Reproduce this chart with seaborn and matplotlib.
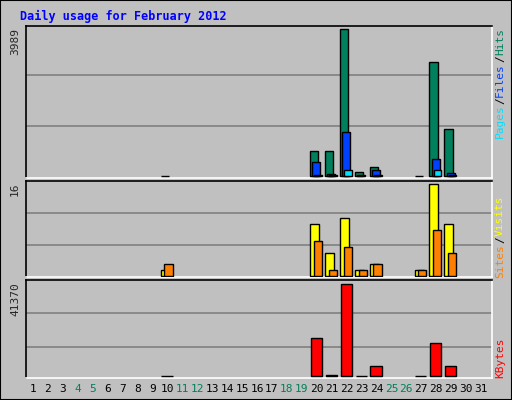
import matplotlib
matplotlib.use("Agg")
import matplotlib.pyplot as plt
import seaborn as sns
import numpy as np

sns.set_style("white")
plt.rcParams['font.family'] = ['DejaVu Sans Mono']

days = list(range(1, 32))
weekend_days = [4, 5, 11, 12, 18, 19, 25, 26]
hits = {10: 10, 20: 680, 21: 680, 22: 3989, 23: 110, 24: 240, 27: 10, 28: 3090, 29: 1280}
files = {20: 380, 21: 60, 22: 1190, 23: 20, 24: 150, 28: 460, 29: 90}
pages = {20: 30, 21: 30, 22: 160, 24: 20, 28: 160, 29: 30}
visits = {10: 1, 20: 9, 21: 4, 22: 10, 23: 1, 24: 2, 27: 1, 28: 16, 29: 9}
sites = {10: 2, 20: 6, 21: 1, 22: 5, 23: 1, 24: 2, 27: 1, 28: 8, 29: 4}
kbytes = {10: 100, 20: 17100, 21: 700, 22: 41370, 23: 150, 24: 4500, 27: 150, 28: 14800, 29: 4500}
max_hits, max_visits, max_kb = 3989, 16, 41370

BG = '#C0C0C0'
fig = plt.figure(figsize=(5.12, 4.0), dpi=100, facecolor=BG)
fig.patches.append(plt.Rectangle((0, 0), 1, 1, transform=fig.transFigure, fill=False,
                                 edgecolor='#000000', lw=1.5))
fig.text(20/512, 1-16/400, 'Daily usage for February 2012', color='#0000FF',
         fontsize=8.5, fontweight='bold', va='center', ha='left')

L, W = 26/512, 466/512
u = 30/448
XL, XR = 1 - 7*u, 31 + 11*u
def mk(top, bot):
    ax = fig.add_axes([L, 1-bot/400, W, (bot-top)/400])
    ax.set_facecolor(BG)
    ax.set_xlim(XL, XR)
    ax.set_xticks([]); ax.set_yticks([])
    for s in ['top', 'left']:
        ax.spines[s].set_color('black')
    for s in ['bottom', 'right']:
        ax.spines[s].set_color('white')
    for s in ax.spines.values():
        s.set_linewidth(1.2)
    return ax

def bars(ax, data, off, w, color):
    ks = list(data.keys())
    ax.bar(np.array(ks) + off, [data[k] for k in ks], width=w, color=color,
           edgecolor='black', linewidth=1, align='edge', zorder=3)

ax1 = mk(26, 178)
ax1.set_ylim(-max_hits*0.014, max_hits*1.02)
for f in (0.34, 0.69):
    ax1.axhline(max_hits*f, color='#808080', lw=1.2, zorder=1)
bars(ax1, hits, -0.45, 0.55, '#00805C')
bars(ax1, files, -0.3, 0.55, '#0040FF')
bars(ax1, pages, -0.15, 0.5, '#00E0FF')

ax2 = mk(181, 277)
ax2.set_ylim(-max_visits*0.015, max_visits*1.03)
for f in (0.33, 0.68):
    ax2.axhline(max_visits*f, color='#808080', lw=1.2, zorder=1)
bars(ax2, visits, -0.45, 0.6, '#FFFF00')
bars(ax2, sites, -0.2, 0.55, '#FF8000')

ax3 = mk(280, 378)
ax3.set_ylim(-max_kb*0.02, max_kb*1.04)
for f in (0.32, 0.68):
    ax3.axhline(max_kb*f, color='#808080', lw=1.2, zorder=1)
bars(ax3, kbytes, -0.4, 0.75, '#FF0000')

for ax, top, val in ((ax1, 28, max_hits), (ax2, 182, max_visits), (ax3, 282, max_kb)):
    fig.text(15/512, 1-top/400, str(val), rotation=90, fontsize=8, va='top', ha='center')

def right_labels(parts, top):
    y = top
    for txt, col in parts:
        fig.text(500/512, 1-y/400, txt, rotation=90, fontsize=8, color=col,
                 va='top', ha='center')
        y += len(txt)*6.6 + 1
right_labels([('Hits', '#00805C'), ('/', 'black'), ('Files', '#0040FF'), ('/', 'black'), ('Pages', '#00E0FF')], 28)
right_labels([('Visits', '#FFFF00'), ('/', 'black'), ('Sites', '#FF8000')], 196)
right_labels([('KBytes', '#FF0000')], 338)

for d in days:
    x = L + W*(d - XL)/(XR - XL)
    fig.text(x, 1-389/400, str(d), fontsize=8, ha='center', va='center',
             color='#00805C' if d in weekend_days else 'black')

fig.savefig('out.png', dpi=100, facecolor=BG)
